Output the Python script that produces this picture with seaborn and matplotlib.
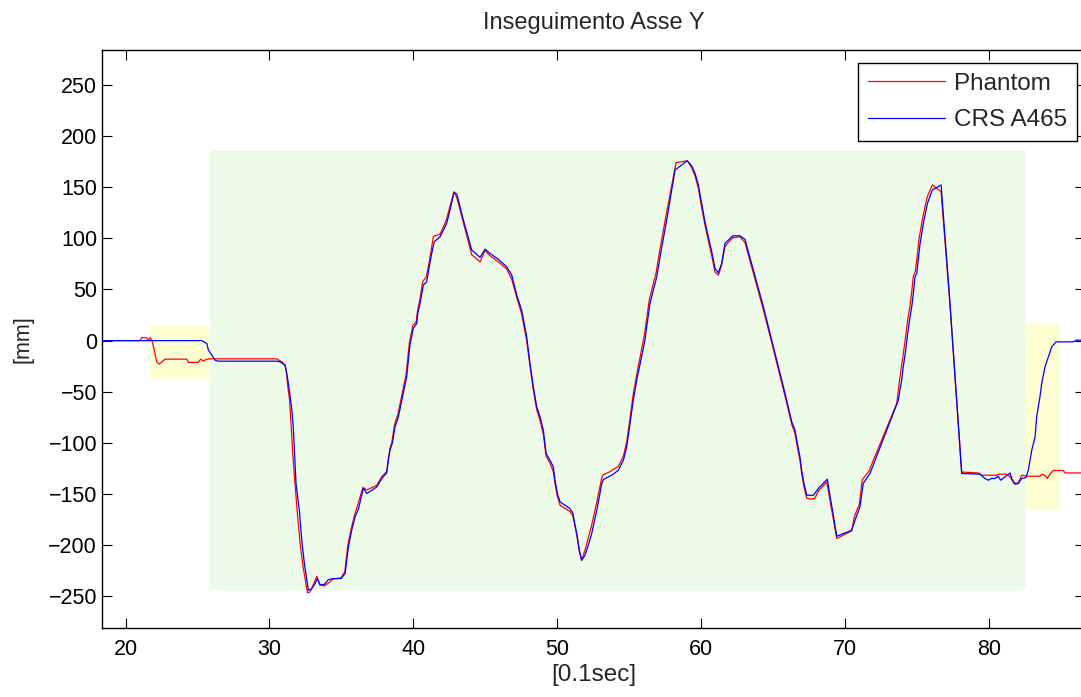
import matplotlib
matplotlib.use("Agg")
import matplotlib.pyplot as plt
import seaborn as sns
import pandas as pd

# Phantom (red) trace
phantom_x = [18.0, 21.0, 21.15, 21.5, 21.6, 21.71, 21.85, 22.00, 22.17, 22.35, 22.75, 24.26, 24.37,
             25.06, 25.23, 25.41, 25.60, 25.87, 30.51, 30.86, 31.09, 31.18, 31.28, 31.40, 31.50,
             31.62, 31.78, 31.95, 32.15, 32.35, 32.65, 32.80, 32.94, 33.13, 33.30, 33.50, 33.80,
             34.10, 34.44, 34.98, 35.24, 35.45, 35.70, 35.93, 36.15, 36.50, 36.77, 37.46, 37.81,
             38.15, 38.27, 38.38, 38.50, 38.70, 38.93, 39.50, 39.73, 39.97, 40.20, 40.28, 40.45,
             40.66, 40.90, 41.08, 41.25, 41.40, 41.86, 42.30, 42.52, 42.83, 43.02, 43.25, 43.48,
             43.71, 44.06, 44.64, 44.99, 45.33, 45.91, 46.49, 46.84, 47.19, 47.53, 47.88, 48.11,
             48.34, 48.58, 48.81, 49.04, 49.23, 49.50, 49.73, 49.85, 50.01, 50.20, 50.55, 50.89,
             51.08, 51.36, 51.54, 51.70, 51.93, 52.16, 52.40, 52.75, 53.10, 53.21, 53.55, 53.90,
             54.25, 54.60, 54.83, 55.06, 55.29, 55.53, 56.05, 56.18, 56.40, 56.63, 56.87, 57.10,
             57.56, 58.26, 59.04, 59.35, 59.58, 59.81, 60.04, 60.27, 60.50, 60.74, 60.97, 61.20,
             61.43, 61.66, 61.89, 62.20, 62.70, 63.05, 63.63, 64.33, 64.91, 65.60, 65.95, 66.30,
             66.53, 66.69, 66.87, 66.99, 67.15, 67.34, 67.57, 67.90, 68.15, 68.73, 69.43, 70.47,
             70.65, 71.00, 71.20, 71.65, 73.60, 73.71, 73.82, 73.94, 74.10, 74.22, 74.36, 74.52,
             74.64, 74.75, 74.90, 75.15, 75.40, 75.70, 76.07, 76.68, 77.30, 78.11, 79.27, 79.50,
             80.54, 80.65, 81.24, 81.47, 81.75, 82.05, 82.28, 82.63, 83.55, 83.67, 83.90, 84.06,
             84.25, 84.48, 85.17, 85.29, 87.0]
phantom_y = [0, 0, 3.1, 2.5, 0.5, 3, 0, -9.3, -20.7, -23, -18.1, -18.1, -21.3,
             -21.3, -18.1, -20.1, -18.4, -17.8, -17.8, -20.7, -24, -31, -45, -58, -80,
             -110, -140, -170, -200, -222, -246.5, -246, -242.5, -236, -230.5, -238, -240,
             -237, -233, -232, -226, -200, -183, -170, -160, -143.5, -146, -141.5, -133,
             -128, -115, -105, -100, -82, -72, -33, -2, 15, 18, 28, 40,
             58, 62, 75, 89, 102, 104, 118, 130, 145.5, 140, 128, 115,
             103, 84, 77, 88, 83, 77, 70, 60, 42, 26, 0, -25,
             -48, -68, -78, -92, -113, -120, -128, -140, -152, -161, -164, -167,
             -171, -190, -206, -214.8, -205, -193, -180, -158, -134, -131, -129, -126,
             -123, -113, -99, -76, -52, -33, 5, 17, 40, 53, 66, 86,
             122, 174, 175.9, 169, 161, 149, 130, 113, 98, 83, 67, 64,
             74, 92, 96, 100.5, 101.5, 96, 66, 30, -2, -41, -61, -82,
             -91, -104, -117, -130, -143, -154, -155, -154.4, -147, -138.2, -193.5, -186,
             -172, -160, -136, -128, -61.4, -48, -36, -24, -8, 5, 20, 34,
             48, 63, 68, 100, 120, 140, 152.2, 145.6, 34, -128.5, -129.4, -131.6,
             -131.6, -130.6, -130.6, -133.3, -139.7, -139, -131.6, -132.6, -132.6, -130.6, -132, -134.8,
             -130.6, -127.0, -127.0, -129.4, -129.4]

# CRS A465 (blue) trace
crs_x = [18.0, 25.30, 25.65, 25.76, 26.00, 26.22, 26.45, 30.51, 30.74, 31.09, 31.21, 31.37, 31.55,
         31.66, 31.85, 32.08, 32.25, 32.43, 32.71, 32.94, 33.17, 33.33, 33.52, 33.82, 34.10,
         34.44, 34.98, 35.26, 35.49, 35.72, 35.95, 36.18, 36.53, 36.77, 37.46, 37.81, 38.15,
         38.27, 38.38, 38.55, 38.73, 38.96, 39.54, 39.77, 40.00, 40.24, 40.31, 40.47, 40.70,
         40.93, 41.11, 41.28, 41.46, 41.86, 42.32, 42.55, 42.83, 43.02, 43.25, 43.48, 43.71,
         44.06, 44.64, 44.99, 45.33, 45.91, 46.49, 46.84, 47.19, 47.53, 47.88, 48.11, 48.34,
         48.58, 48.81, 49.04, 49.23, 49.50, 49.73, 49.85, 50.01, 50.20, 50.55, 50.89, 51.08,
         51.36, 51.54, 51.70, 51.93, 52.16, 52.40, 52.75, 53.10, 53.21, 53.55, 53.90, 54.25,
         54.60, 54.83, 55.06, 55.29, 55.53, 56.10, 56.22, 56.45, 56.68, 56.92, 57.15, 57.61,
         58.19, 59.04, 59.35, 59.58, 59.81, 60.04, 60.27, 60.50, 60.74, 60.97, 61.20, 61.43,
         61.66, 61.89, 62.20, 62.70, 63.05, 63.63, 64.33, 64.91, 65.60, 65.95, 66.30, 66.53,
         66.69, 66.87, 66.99, 67.15, 67.34, 67.80, 68.15, 68.77, 69.43, 70.47, 70.70, 71.04,
         71.27, 71.74, 73.71, 73.82, 73.94, 74.05, 74.22, 74.33, 74.47, 74.64, 74.75, 74.87,
         74.99, 75.22, 75.45, 75.73, 76.07, 76.68, 77.30, 78.11, 79.38, 79.73, 79.96, 80.19,
         80.42, 80.65, 80.82, 81.12, 81.47, 81.59, 81.82, 82.05, 82.28, 82.58, 82.74, 82.98,
         83.21, 83.32, 83.55, 83.67, 83.90, 84.13, 84.37, 84.67, 85.87, 86.10, 87.0]
crs_y = [0, 0, -2.7, -9.3, -14.2, -19.1, -20.1, -20.1, -20.7, -24, -32.1, -46.8, -66.3,
         -84.3, -139.7, -165.9, -195.2, -218.0, -244.1, -242.5, -237.6, -232.7, -239.2, -238.3, -233.7,
         -232.7, -232.7, -227.8, -201.8, -185.4, -172.4, -165, -144.6, -149.5, -143.1, -134.8, -129.4,
         -116.9, -107.1, -100, -84.3, -74.6, -35.4, -4, 12, 16.8, 26.6, 36.4, 54.3,
         57.5, 72.2, 85.3, 96.7, 101.6, 114.7, 127.7, 145.0, 143.3, 130.9, 117.9, 106.5,
         88.6, 81.4, 89.5, 85.3, 79.5, 72.2, 64.1, 44.5, 29.8, 3.7, -22.3, -45.2,
         -64.8, -74.6, -87.6, -110.4, -116.9, -123.5, -136.5, -149.5, -157.7, -161.0, -164.2, -168.5,
         -188.6, -205.0, -214.8, -209.9, -200.1, -188.6, -165.9, -139.7, -135.8, -133.3, -130.6, -126.7,
         -116.9, -103.9, -81.0, -58.2, -38.6, 0.5, 13.5, 36.4, 49.4, 62.4, 82.0, 117.9,
         166.8, 175.9, 170.7, 163.6, 152.2, 134.2, 116.2, 101.6, 86.9, 70.6, 66.3, 75.5,
         95.1, 98.3, 102.5, 102.5, 99.0, 69.0, 33.1, 0.5, -38.6, -58.2, -79.5, -87.6,
         -100.6, -113.7, -126.7, -139.7, -151.2, -151.2, -144.6, -135.5, -191.3, -185.4, -175.6, -162.6,
         -139.7, -129.9, -58.2, -48.4, -38.6, -25.6, -9.3, 3.7, 18.4, 33.1, 46.2, 62.4,
         65.8, 95.1, 114.7, 134.2, 147.3, 152.2, 36.4, -129.9, -130.6, -134.8, -136.5, -134.8,
         -134.8, -132.6, -136.5, -133.3, -129.4, -134.8, -140.4, -139.7, -134.8, -133.9, -126.7, -107.1,
         -94.1, -74.6, -55.0, -41.9, -25.6, -15.9, -6.1, -1.2, -1.2, 0.5, 0.5]

# shaded phases: x0, x1, y0, y1
phase_x0 = [21.70, 25.87, 82.56]
phase_x1 = [25.87, 82.56, 84.92]
phase_y0 = [-37.7, -244.1, -165.6]
phase_y1 = [14.2, 186.4, 16.8]
phase_colors = ["#fffdd2", "#eefbe9", "#fffdd2"]

df = pd.concat([
    pd.DataFrame({"t": phantom_x, "pos": phantom_y, "series": "Phantom"}),
    pd.DataFrame({"t": crs_x, "pos": crs_y, "series": "CRS A465"}),
], ignore_index=True)

sns.set_style("ticks", {"xtick.direction": "in", "ytick.direction": "in"})
plt.rcParams["font.family"] = ["Liberation Sans", "DejaVu Sans"]

fig = plt.figure(figsize=(10.81, 6.97), dpi=100)
ax = fig.add_axes([0.0944, 0.099, 0.9093, 0.829])

for x0, x1, y0, y1, c in zip(phase_x0, phase_x1, phase_y0, phase_y1, phase_colors):
    ax.fill_between([x0, x1], y0, y1, color=c, linewidth=0, zorder=0)

sns.lineplot(data=df, x="t", y="pos", hue="series", palette={"Phantom": "#ff0000", "CRS A465": "#0000ff"},
             estimator=None, sort=False, linewidth=0.9, ax=ax, zorder=3)

ax.set_xlim(18.37, 86.68)
ax.set_ylim(-281, 284)
ax.set_xticks([20, 30, 40, 50, 60, 70, 80])
ax.set_yticks([-250, -200, -150, -100, -50, 0, 50, 100, 150, 200, 250])
ax.tick_params(top=True, right=True, length=7, width=0.8, labelsize=15.5, colors="black")
ax.tick_params(axis="x", pad=8)
for s in ax.spines.values():
    s.set_visible(True)
    s.set_color("black")
    s.set_linewidth(1.0)

ax.set_title("Inseguimento Asse Y", fontsize=17, pad=15)
ax.set_xlabel("[0.1sec]", fontsize=17.5, labelpad=3)
ax.set_ylabel("[mm]", fontsize=15.5, labelpad=11)

leg = ax.legend(loc="upper right", bbox_to_anchor=(0.992, 0.978), borderaxespad=0,
                fontsize=17.5, fancybox=False, framealpha=1, edgecolor="black",
                handlelength=3.2, handletextpad=0.37, borderpad=0.4, labelspacing=0.6)
leg.get_frame().set_linewidth(1.0)

fig.savefig("out.png", dpi=100)
